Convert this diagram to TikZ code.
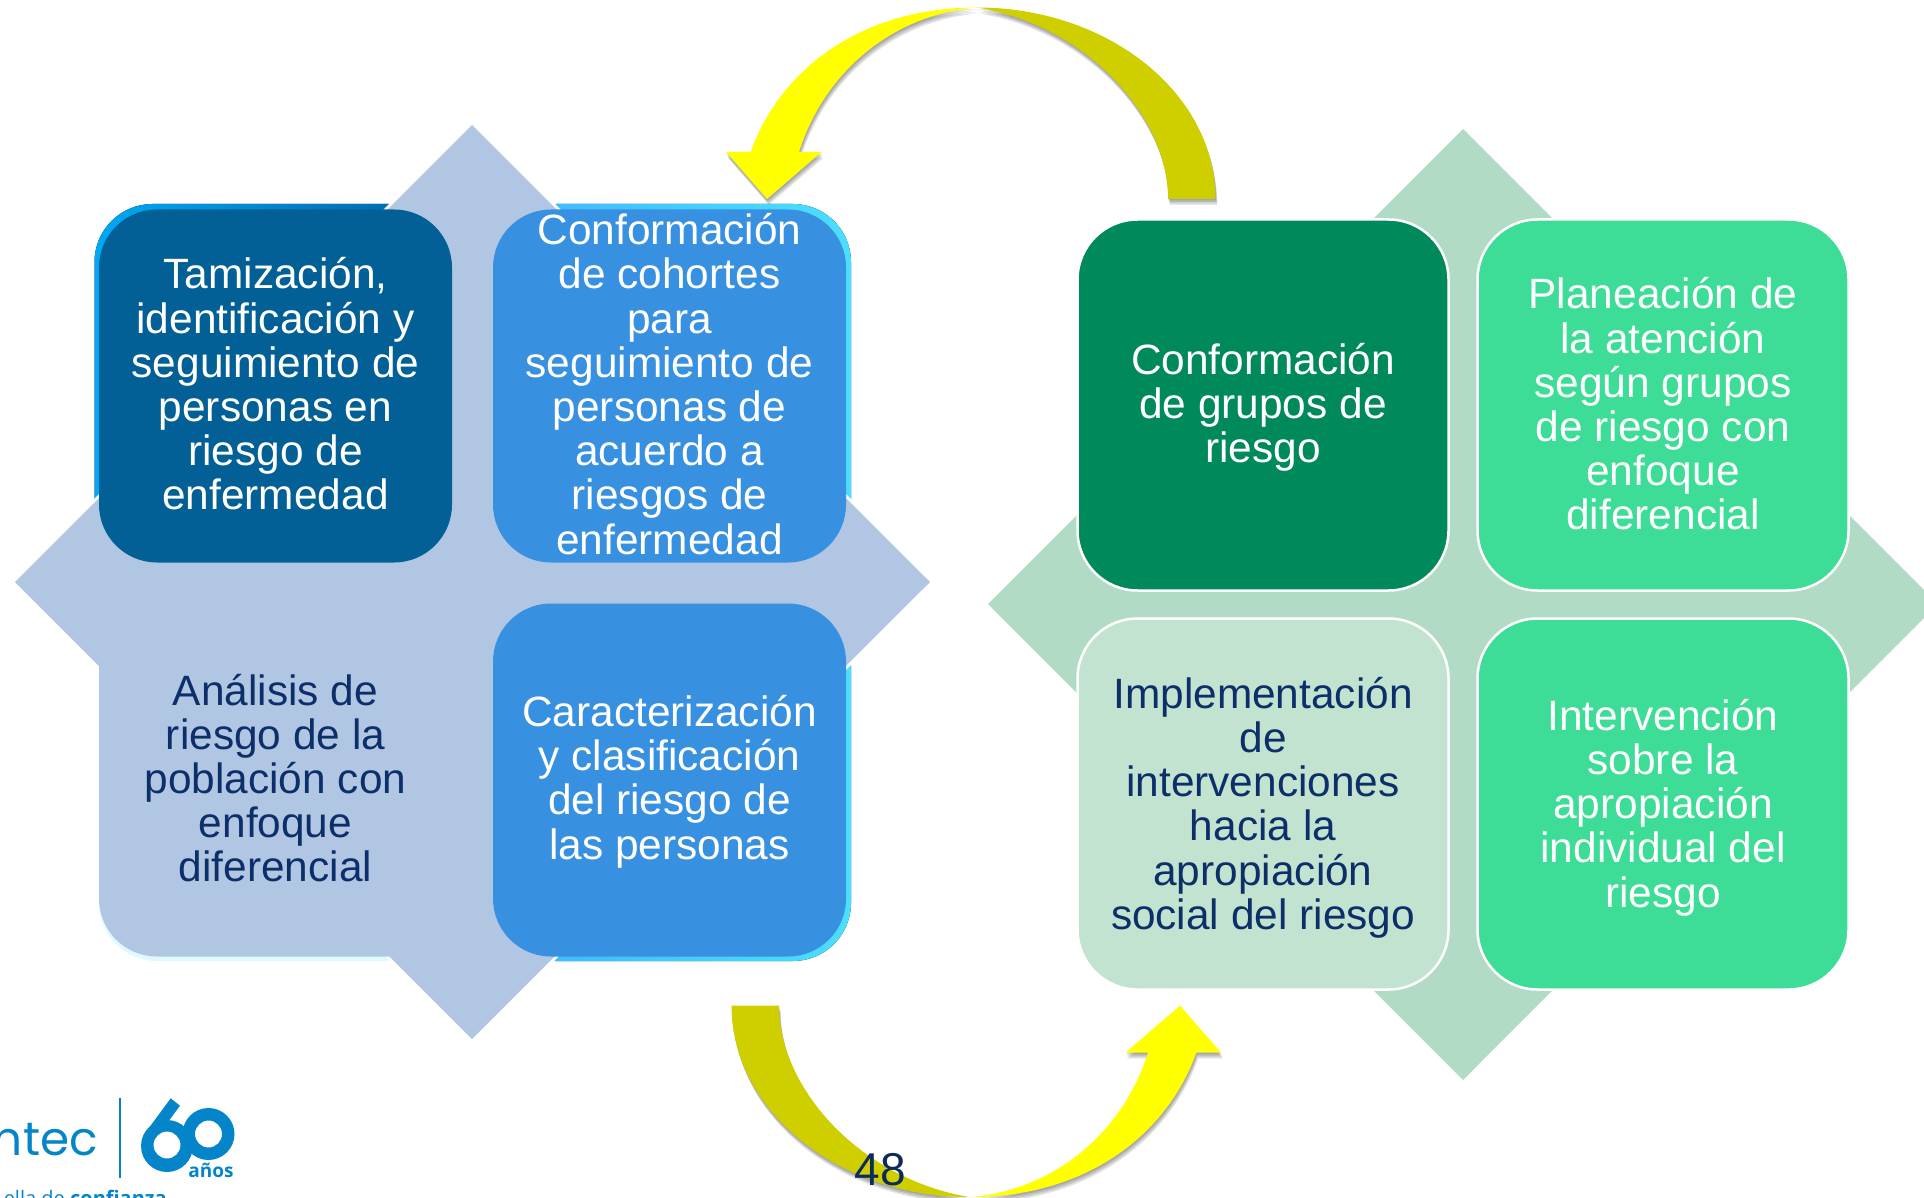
\documentclass[tikz,border=0pt]{standalone}
\usepackage{fontspec}
\setmainfont{Liberation Sans}
\newfontfamily\logofont{Open Sans}
\newfontfamily\logowordfont{Poppins}
\definecolor{dkblue}{HTML}{026097}
\definecolor{midblue}{HTML}{3890E1}
\definecolor{diaL}{HTML}{B0C6E3}
\definecolor{diaR}{HTML}{B1DBC5}
\definecolor{dkgreen}{HTML}{008A5B}
\definecolor{ltgreen}{HTML}{3DDC97}
\definecolor{palegreen}{HTML}{C1E3D0}
\definecolor{navy}{HTML}{0D2F69}
\definecolor{olive}{HTML}{CFCF00}
\definecolor{arrowyellow}{RGB}{255,255,0}
\definecolor{logoblue}{HTML}{0585C9}
\definecolor{glowA}{HTML}{00A8F5}
\definecolor{glowB}{HTML}{0062A5}
\definecolor{glowC}{HTML}{3DB6FF}
\definecolor{glowD}{HTML}{4BDFFF}
\definecolor{glowE}{HTML}{E0FAFF}
\tikzset{
  boxL/.style={rectangle,rounded corners=58pt,minimum width=353pt,minimum height=353pt,inner sep=0pt,draw=none},
  boxR/.style={rectangle,rounded corners=60pt,minimum width=371pt,minimum height=371pt,inner sep=0pt,draw=white,line width=2.5pt},
  lab/.style={align=center,inner sep=0pt,font=\fontsize{42.4}{44.2}\selectfont},
  whitelab/.style={lab,text=white},
  navylab/.style={lab,text=navy},
  shadowcopy/.style={fill=black,opacity=0.10,draw=none}
}
\newcommand{\arrowOlive}{(1215.5,199) .. controls (1215.5,93.5) and (1108.5,7.5) .. (977,7.5)
   .. controls (1085,25) and (1168,115) .. (1168,199) -- cycle}
\newcommand{\arrowYellow}{(977,7.5) .. controls (860,7.5) and (780,70) .. (750.6,152) -- (726,152) -- (767,199) -- (821.5,152) -- (799,152)
   .. controls (825,70) and (895,14) .. (977,7.5) -- cycle}
\begin{document}
\begin{tikzpicture}[x=1pt,y=-1pt]
\useasboundingbox (0,0) rectangle (1924,1198);
\clip (0,0) rectangle (1924,1198);
% offset glow boxes
\fill[left color=glowA,right color=glowB,rounded corners=58pt] (94.5,204) rectangle (447,557);
\fill[left color=glowC,right color=glowD,rounded corners=58pt] (498,204) rectangle (851,557);
\fill[left color=glowC,right color=glowD,rounded corners=58pt] (498,608) rectangle (851,961);
\fill[glowE,rounded corners=58pt] (99,608) rectangle (452,961);
% white margin that cuts the glow short of the diamond
\fill[white] (472,121) -- (934,582) -- (472,1043) -- (11,582) -- cycle;
% diamonds
\fill[diaL] (472,125) -- (930,582) -- (472,1039) -- (15,582) -- cycle;
\fill[diaR] (1463,129) -- (1938,604) -- (1463,1080) -- (988,604) -- cycle;
% left boxes
\node[boxL,fill=dkblue] (b1) at (275.5,386) {};
\node[boxL,fill=midblue] (b2) at (669.5,386) {};
\node[boxL,fill=diaL] (b3) at (275.5,780) {};
\node[boxL,fill=midblue] (b4) at (669.5,780) {};
\node[whitelab] (t1) at (275.5,384) {Tamización,\\identificación y\\seguimiento de\\personas en\\riesgo de\\enfermedad};
\node[whitelab] (t2) at (669.5,384) {Conformación\\de cohortes\\para\\seguimiento de\\personas de\\acuerdo a\\riesgos de\\enfermedad};
\node[navylab] (t3) at (275.5,778) {Análisis de\\riesgo de la\\población con\\enfoque\\diferencial};
\node[whitelab] (t4) at (669.5,781.5) {Caracterización\\y clasificación\\del riesgo de\\las personas};
% right boxes
\node[boxR,fill=dkgreen] (g1) at (1263,405) {};
\node[boxR,fill=ltgreen] (g2) at (1663,405) {};
\node[boxR,fill=palegreen] (g3) at (1263,804) {};
\node[boxR,fill=ltgreen] (g4) at (1663,804) {};
\node[whitelab] (u1) at (1263,407) {Conformación\\de grupos de\\riesgo};
\node[whitelab] (u2) at (1663,404) {Planeación de\\la atención\\según grupos\\de riesgo con\\enfoque\\diferencial};
\node[navylab] (u3) at (1263,807.5) {Implementación\\de\\intervenciones\\hacia la\\apropiación\\social del riesgo};
\node[whitelab] (u4) at (1663,807.5) {Intervención\\sobre la\\apropiación\\individual del\\riesgo};
% curved arrows: shadows
\foreach \s in {1.5,3,4.5,6}{
  \fill[shadowcopy,shift={(\s*0.3,\s)}] \arrowOlive;
  \fill[shadowcopy,shift={(\s*0.3,\s)}] \arrowYellow;
  \fill[shadowcopy,shift={(\s*0.3,\s)}] [rotate around={180:(973.5,602.3)}] \arrowOlive;
  \fill[shadowcopy,shift={(\s*0.3,\s)}] [rotate around={180:(973.5,602.3)}] \arrowYellow;
}
\fill[olive] \arrowOlive;
\fill[arrowyellow] \arrowYellow;
\fill[olive,rotate around={180:(973.5,602.3)}] \arrowOlive;
\fill[arrowyellow,rotate around={180:(973.5,602.3)}] \arrowYellow;
% page number
\node[text=navy!90!black,inner sep=0pt,font=\fontsize{46}{46}\selectfont] (pg) at (880,1170) {48};
% logo
\node[anchor=base east,inner sep=0pt,text=logoblue,font=\logowordfont\fontsize{47}{47}\selectfont] (lg1) at (98,1155) {ntec};
\draw[logoblue,line width=1.6pt] (119.7,1098) -- (119.7,1178);
\fill[logoblue,even odd rule] (167,1146) circle (26) (167,1145) circle (13.5);
\fill[logoblue] (170.7,1098.3) -- (180,1105.7) -- (162,1130) -- (143,1136) -- cycle;
\fill[logoblue,even odd rule] (208.5,1134) circle (26) (208.5,1134) circle (13.5);
\node[anchor=base,inner sep=0pt,text=logoblue,font=\logofont\bfseries\fontsize{19}{19}\selectfont] (lg2) at (211,1177) {años};
\node[anchor=base east,inner sep=0pt,text=logoblue,font=\logofont\fontsize{20}{20}\selectfont] (lg3) at (167,1205) {ella de \textbf{confianza}};
\end{tikzpicture}
\end{document}
